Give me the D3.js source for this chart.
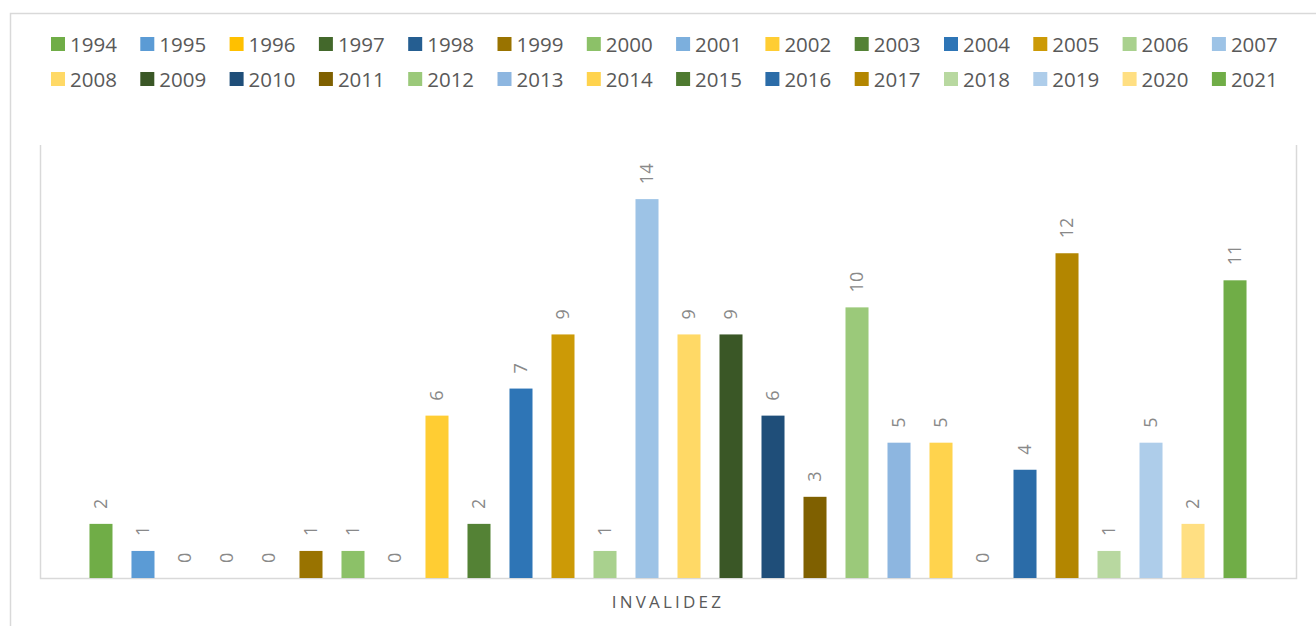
<!DOCTYPE html>
<html>
<head>
<meta charset="utf-8">
<script src="https://cdn.jsdelivr.net/npm/d3@7"></script>
<style>
  body { margin: 0; background: #fff; }
  svg { display: block; font-family: "Open Sans", sans-serif; }
</style>
</head>
<body>
<svg></svg>
<script>
var width = 1316;
var height = 626;

var categories = ['INVALIDEZ'];
var years = ['1994','1995','1996','1997','1998','1999','2000','2001','2002','2003','2004','2005','2006','2007',
             '2008','2009','2010','2011','2012','2013','2014','2015','2016','2017','2018','2019','2020','2021'];
var values = [2, 1, 0, 0, 0, 1, 1, 0, 6, 2, 7, 9, 1, 14,
              9, 9, 6, 3, 10, 5, 5, 0, 4, 12, 1, 5, 2, 11];
var colors = ['#70ad47','#5b9bd5','#ffc000','#43682b','#255e91','#997300','#8cc168','#7cafdd','#ffcd33','#548235','#2e75b6','#cc9a06','#a9d18e','#9dc3e6',
              '#ffd966','#3a5726','#1f4e79','#7f6000','#9bc97a','#8db6e0','#ffd34d','#4e7a30','#2b6ca8','#b38600','#b8d8a0','#aecdea','#ffdf82','#70ad47'];

var plot = { left: 40, right: 1296, top: 145, bottom: 578 };

var svg = d3.select('svg')
    .attr('width', width)
    .attr('height', height);

// outer chart frame (only top and left edge are visible)
svg.append('path')
    .attr('d', 'M10.5,' + height + 'V13.5H' + width)
    .attr('fill', 'none')
    .attr('stroke', '#d9d9d9')
    .attr('stroke-width', 1.5);

var x0 = d3.scaleBand()
    .domain(categories)
    .range([plot.left, plot.right]);

var x1 = d3.scaleBand()
    .domain(years)
    .range([0, x0.bandwidth()])
    .paddingInner(0.452)
    .paddingOuter(1.178);

var y = d3.scaleLinear()
    .domain([0, 16])
    .range([plot.bottom, plot.top]);

// plot area border: left, right, bottom
svg.append('path')
    .attr('d', 'M' + (plot.left + 0.5) + ',' + plot.top + 'V' + (plot.bottom + 0.5) +
               'H' + (plot.right + 0.5) + 'V' + plot.top)
    .attr('fill', 'none')
    .attr('stroke', '#d9d9d9')
    .attr('stroke-width', 1.5);

var rows = categories.map(function(c) {
    return years.map(function(yr, i) { return { cat: c, year: yr, value: values[i], color: colors[i] }; });
});

var groups = svg.selectAll('g.cat')
    .data(rows)
    .enter().append('g')
      .attr('class', 'cat')
      .attr('transform', function(d, i) { return 'translate(' + x0(categories[i]) + ',0)'; });

groups.selectAll('rect')
    .data(function(d) { return d; })
    .enter().append('rect')
      .attr('x', function(d) { return x1(d.year); })
      .attr('y', function(d) { return y(d.value); })
      .attr('width', x1.bandwidth())
      .attr('height', function(d) { return y(0) - y(d.value); })
      .attr('fill', function(d) { return d.color; });

groups.selectAll('text.lbl')
    .data(function(d) { return d; })
    .enter().append('text')
      .attr('class', 'lbl')
      .attr('transform', function(d) {
          return 'translate(' + (x1(d.year) + x1.bandwidth() / 2) + ',' + (y(d.value) - 15) + ') rotate(-90)';
      })
      .attr('dy', '0.36em')
      .attr('fill', '#898989')
      .style('font-size', '18px')
      .text(function(d) { return d.value; });

// category axis
var xAxis = svg.append('g')
    .attr('transform', 'translate(0,' + plot.bottom + ')')
    .call(d3.axisBottom(x0).tickSize(0).tickPadding(18));
xAxis.select('.domain').remove();
xAxis.selectAll('text')
    .attr('fill', '#595959')
    .style('font-family', '"Open Sans", sans-serif')
    .style('font-size', '17px')
    .style('letter-spacing', '3.2px');

// legend, two rows of 14
var legend = svg.append('g').attr('class', 'legend');
var perRow = 14;
var item = legend.selectAll('g')
    .data(years)
    .enter().append('g')
      .attr('transform', function(d, i) {
          return 'translate(' + (51 + (i % perRow) * 89.3) + ',' + (37 + Math.floor(i / perRow) * 35) + ')';
      });

item.append('rect')
    .attr('width', 14)
    .attr('height', 14)
    .attr('fill', function(d, i) { return colors[i]; });

item.append('text')
    .attr('x', 19)
    .attr('y', 15)
    .attr('fill', '#595959')
    .style('font-size', '20.5px')
    .text(function(d) { return d; });
</script>
</body>
</html>
